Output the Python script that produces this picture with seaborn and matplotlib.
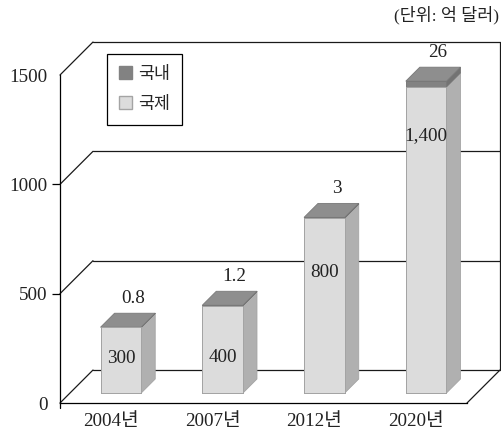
import matplotlib
matplotlib.use("Agg")
import matplotlib.pyplot as plt
from matplotlib.patches import Polygon, Patch
import seaborn as sns
import pandas as pd

# ---- data -------------------------------------------------------------
years = ["2004년", "2007년", "2012년", "2020년"]
international = [300, 400, 800, 1400]      # 국제
domestic = [0.8, 1.2, 3, 26]                # 국내
y_ticks = [0, 500, 1000, 1500]
series_names = ["국내", "국제"]
unit_text = "(단위: 억 달러)"

# where the 국제 value sits on each bar (fraction of the bar height)
inner_label_frac = [0.52, 0.41, 0.69, 0.84]

# ---- style ------------------------------------------------------------
sns.set_theme(style="white")
plt.rcParams["font.family"] = ["Liberation Serif", "Noto Sans CJK KR"]
plt.rcParams["axes.unicode_minus"] = False

LIGHT_FRONT, LIGHT_SIDE, LIGHT_TOP, LIGHT_EDGE = "#dcdcdc", "#b0b0b0", "#c6c6c6", "#a4a4a4"
DARK_FRONT, DARK_SIDE, DARK_TOP, DARK_EDGE = "#828282", "#737373", "#8e8e8e", "#787878"
FS = 13.8

W, H = 501, 432
fig = plt.figure(figsize=(W / 100, H / 100), dpi=100)
fig.patch.set_facecolor("white")

# front plane of the box (pixels): x 60..467, y 403 (0) .. 75 (1500)
left_px, right_px, bottom_px, top_px = 60, 467, 403, 75
ax = fig.add_axes([left_px / W, 1 - bottom_px / H,
                   (right_px - left_px) / W, (bottom_px - top_px) / H])
ax.set_facecolor("none")
ax.set_xlim(-0.5, len(years) - 0.5)
ax.set_ylim(0, 1500)

kx = (right_px - left_px) / len(years)      # px per category unit
ky = (bottom_px - top_px) / 1500            # px per value unit


def depth(px):
    """Oblique offset (data units) for a depth of px pixels."""
    return px / kx, px / ky


WALL = 33        # depth of the back wall
BAR_Z0 = 10      # depth of bar front faces
BAR_D = 14       # bar thickness

wx, wy = depth(WALL)
x0, x1 = -0.5, len(years) - 0.5

# ---- back wall, floor and side guides ---------------------------------
line_kw = dict(color="#1a1a1a", lw=0.9, clip_on=False, zorder=1)
for v in y_ticks:
    ax.plot([x0 + wx, x1 + wx], [v + wy, v + wy], **line_kw)
    ax.plot([x0, x0 + wx], [v, v + wy], **line_kw)
ax.plot([x1, x1 + wx], [0, wy], **line_kw)
ax.plot([x1 + wx, x1 + wx], [wy, 1500 + wy], **line_kw)
# small stub of the value axis below zero
ax.plot([x0, x0], [0, -5 / ky], color="black", lw=0.9, clip_on=False, zorder=1)

# ---- bars ---------------------------------------------------------------
df = pd.DataFrame({"year": years, "intl": international, "dom": domestic})
df["total"] = df["intl"] + df["dom"]

sns.barplot(data=df, x="year", y="total", color=DARK_FRONT, saturation=1,
            width=0.40, edgecolor=DARK_EDGE, linewidth=0.7, ax=ax)
sns.barplot(data=df, x="year", y="intl", color=LIGHT_FRONT, saturation=1,
            width=0.40, edgecolor=LIGHT_EDGE, linewidth=0.7, ax=ax)

fx, fy = depth(BAR_Z0)
bx, by = depth(BAR_D)
n = len(years)
dark_rects = ax.patches[:n]
light_rects = ax.patches[n:2 * n]

for i in range(n):
    for rect in (dark_rects[i], light_rects[i]):
        rect.set_x(rect.get_x() + fx)
        rect.set_y(rect.get_y() + fy)
        rect.set_zorder(3)
        rect.set_clip_on(False)

    lr = light_rects[i]
    dr = dark_rects[i]
    xl = lr.get_x()
    xr = xl + lr.get_width()
    yb = lr.get_y()
    yi = yb + lr.get_height()
    yt = dr.get_y() + dr.get_height()

    # side faces
    ax.add_patch(Polygon([(xr, yb), (xr, yi), (xr + bx, yi + by), (xr + bx, yb + by)],
                         closed=True, facecolor=LIGHT_SIDE, edgecolor=LIGHT_EDGE,
                         lw=0.6, zorder=2.9, clip_on=False))
    ax.add_patch(Polygon([(xr, yi), (xr, yt), (xr + bx, yt + by), (xr + bx, yi + by)],
                         closed=True, facecolor=DARK_SIDE, edgecolor=DARK_SIDE,
                         lw=0.6, zorder=2.9, clip_on=False))
    # top face
    ax.add_patch(Polygon([(xl, yt), (xr, yt), (xr + bx, yt + by), (xl + bx, yt + by)],
                         closed=True, facecolor=DARK_TOP, edgecolor=DARK_EDGE,
                         lw=0.6, zorder=2.9, clip_on=False))

    # value labels
    ax.annotate(f"{domestic[i]:g}", xy=((xl + xr) / 2 + bx / 2, yt + by),
                xytext=(3.6, 10.5), textcoords="offset points",
                ha="center", va="center", fontsize=FS, color="#222222",
                annotation_clip=False, zorder=5)
    ax.text((xl + xr) / 2, yb + international[i] * inner_label_frac[i],
            f"{international[i]:,}", ha="center", va="center",
            fontsize=FS, color="#222222", zorder=5)

# ---- axes -------------------------------------------------------------
for s in ("top", "right"):
    ax.spines[s].set_visible(False)
for s in ("left", "bottom"):
    ax.spines[s].set_color("black")
    ax.spines[s].set_linewidth(0.9)
    ax.spines[s].set_zorder(1)

ax.set_yticks(y_ticks)
ax.set_yticklabels([str(v) for v in y_ticks])
ax.tick_params(axis="y", left=True, length=6, width=0.9, pad=3,
               labelsize=FS, colors="black", labelcolor="#222222")
yt_objs = ax.yaxis.get_major_ticks()
yt_objs[0].tick1line.set_visible(False)
yt_objs[-1].tick1line.set_visible(False)
ax.tick_params(axis="x", bottom=False, length=0, pad=7, labelsize=FS,
               labelcolor="#222222")
ax.set_xlabel("")
ax.set_ylabel("")
ax.grid(False)

# ---- legend and unit --------------------------------------------------
handles = [Patch(facecolor=DARK_FRONT, edgecolor=DARK_FRONT),
           Patch(facecolor=LIGHT_FRONT, edgecolor=LIGHT_EDGE)]
leg = fig.legend(handles, series_names, loc="upper left",
                 bbox_to_anchor=(107 / W, 1 - 54 / H), borderaxespad=0,
                 fancybox=False, framealpha=1, edgecolor="black",
                 fontsize=12.5, handlelength=0.75, handleheight=0.75,
                 handletextpad=0.35, borderpad=0.7, labelspacing=0.8)
leg.get_frame().set_linewidth(0.9)

fig.text(499 / W, 1 - 15 / H, unit_text, ha="right", va="center",
         fontsize=12.5, color="#222222")

fig.savefig("out.png", dpi=100, facecolor="white")
